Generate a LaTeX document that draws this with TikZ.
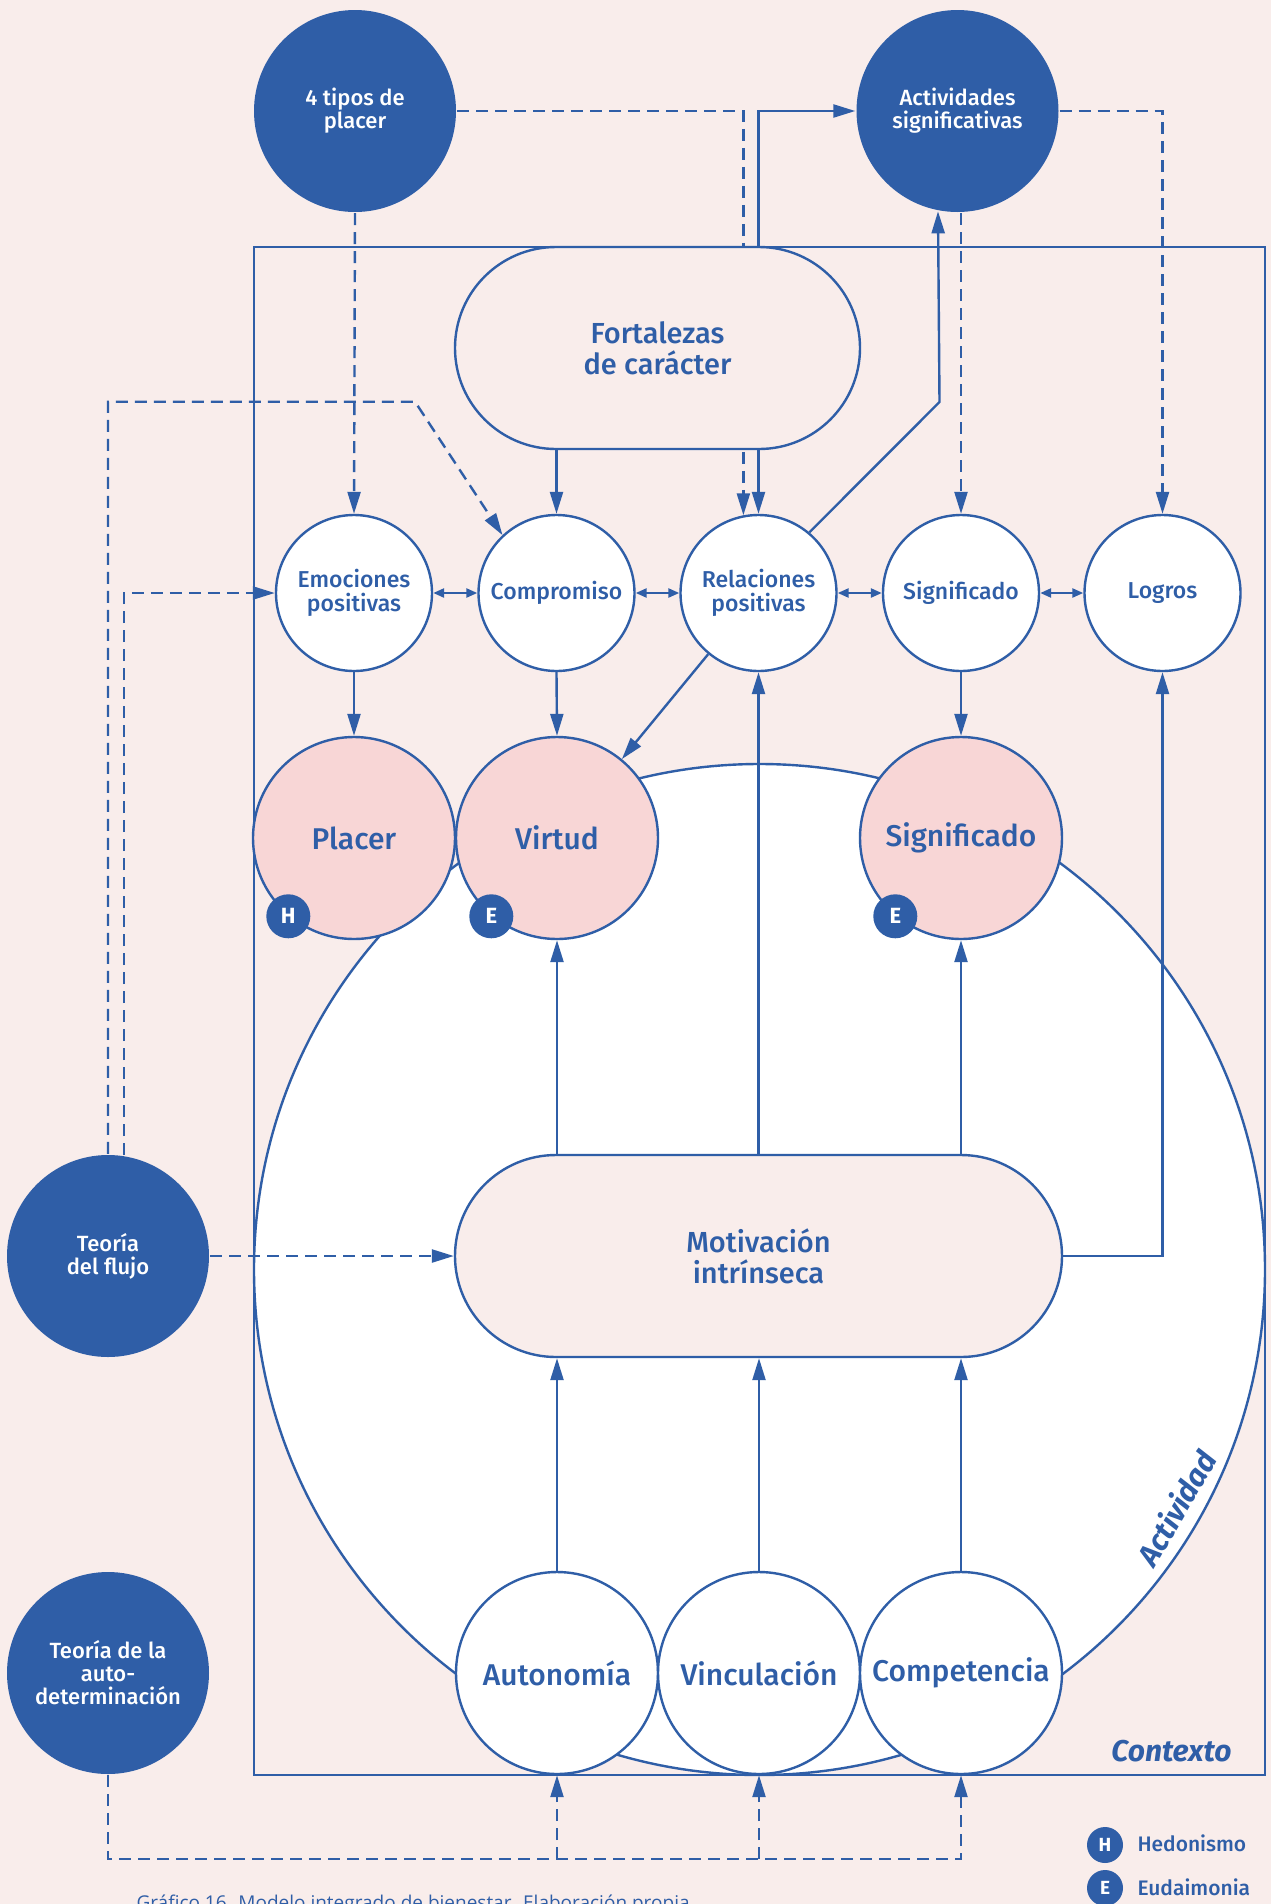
\documentclass[tikz,border=0pt]{standalone}
\usepackage{fontspec}
\setmainfont{Fira Sans}[UprightFont={* Medium}, BoldFont={* Bold}, ItalicFont={* Medium Italic}, BoldItalicFont={* Bold Italic}]
\newfontfamily\capfont{Open Sans}
\usetikzlibrary{arrows.meta}
\definecolor{bgc}{RGB}{249,237,235}
\definecolor{ink}{RGB}{47,94,167}
\definecolor{rose}{RGB}{248,214,214}

\tikzset{
  darkc/.style={circle, fill=ink, text=white, minimum size=202pt, inner sep=0pt,
    align=center, font=\fontsize{22pt}{23pt}\selectfont},
  topc/.style={circle, draw=ink, fill=white, text=ink, minimum size=156pt, inner sep=0pt,
    align=center, font=\fontsize{23pt}{24pt}\selectfont},
  pinkc/.style={circle, draw=ink, fill=rose, text=ink, minimum size=202pt, inner sep=0pt,
    font=\fontsize{30pt}{30pt}\selectfont},
  botc/.style={circle, draw=ink, fill=white, text=ink, minimum size=202pt, inner sep=0pt,
    font=\fontsize{30pt}{30pt}\selectfont},
  stad/.style={rectangle, rounded corners=101pt, draw=ink, fill=bgc, text=ink,
    minimum width=405pt, minimum height=202pt, inner sep=0pt, align=center,
    font=\fontsize{29pt}{31pt}\selectfont},
  badge/.style={circle, fill=ink, text=white, minimum size=44pt, inner sep=0pt,
    font=\fontsize{22pt}{22pt}\bfseries\selectfont},
  conn/.style={-{Triangle[length=22pt,width=13pt]}},
  dbl/.style={{Triangle[length=11pt,width=9pt]}-{Triangle[length=11pt,width=9pt]}},
  dsh/.style={dash pattern=on 12pt off 7pt},
  tag/.style={text=ink, font=\fontsize{30pt}{30pt}\bfseries\itshape\selectfont},
}

\begin{document}
\begin{tikzpicture}[x=1pt,y=-1pt,color=ink,line width=2.4pt]
\useasboundingbox[fill=bgc] (0,0) rectangle (1271,1904);
\clip (0,0) rectangle (1271,1904);

% activity disc and context frame
\draw[fill=white] (759.5,1269.5) circle[radius=505.5pt];
\draw[line width=2.6pt] (254,247) rectangle (1265,1775);

% external theories
\node[darkc] (tipos) at (355,111) {4 tipos de\\placer};
\node[darkc] (act) at (957.5,111) {Actividades\\significativas};
\node[darkc] (flujo) at (108,1256) {Teoría\\del flujo};
\node[darkc] (tad) at (108,1673) {Teoría de la\\auto-\\determinación};

% PERMA row
\node[topc] (emo) at (354,593) {Emociones\\positivas};
\node[topc] (comp) at (556.5,593) {Compromiso};
\node[topc] (rel) at (758.5,593) {Relaciones\\positivas};
\node[topc] (sigt) at (961,593) {Significado};
\node[topc] (log) at (1162.5,593) {Logros};

% this link runs behind the strengths box
\draw[dsh,conn] (tipos.east) -| (rel.101);

% strengths and motivation
\node[stad] (fort) at (657.5,348) {Fortalezas\\de carácter};
\node[stad, minimum width=607pt] (mot) at (758.5,1256) {Motivación\\intrínseca};

% routes to wellbeing
\node[pinkc] (plac) at (354,838) {Placer};
\node[pinkc] (virt) at (557,838) {Virtud};
\node[pinkc] (sigp) at (961,838) {Significado};

% basic needs
\node[botc] (auto) at (557,1673) {Autonomía};
\node[botc] (vinc) at (759,1673) {Vinculación};
\node[botc] (comt) at (961,1673) {Competencia};

% hedonic / eudaimonic badges
\node[badge] (bh) at (plac.230) {H};
\node[badge] (be1) at (virt.230) {E};
\node[badge] (be2) at (sigp.230) {E};

% links from strengths
\draw[conn] (fort.north -| rel.north) |- (act.west);
\draw[conn] (fort.south -| comp.north) -- (comp.north);
\draw[conn] (fort.south -| rel.north) -- (rel.north);

% links from the top theories
\draw[dsh,conn] (tipos.south) -- (emo.north);
\draw[dsh,conn] (sigt.north |- act.south) -- (sigt.north);
\draw[dsh,conn] (act.east) -| (log.north);
\coordinate (kink) at (939.5,402);
\draw[conn] (rel.50) -- (kink) -- (act.259.7);

% PERMA interplay
\draw[dbl] (emo.east) -- (comp.west);
\draw[dbl] (comp.east) -- (rel.west);
\draw[dbl] (rel.east) -- (sigt.west);
\draw[dbl] (sigt.east) -- (log.west);

% PERMA to routes
\draw[conn] (emo.south) -- (plac.north);
\draw[conn] (comp.south) -- (virt.north);
\draw[conn] (sigt.south) -- (sigp.north);
\draw[conn] (rel) -- (virt);

% motivation upwards
\draw[conn] (mot.north -| virt.south) -- (virt.south);
\draw[conn] (mot.north) -- (rel.south);
\draw[conn] (mot.north -| sigp.south) -- (sigp.south);
\draw[conn] (mot.east) -| (log.south);

% needs feed motivation
\draw[conn] (auto.north) -- (auto.north |- mot.south);
\draw[conn] (vinc.north) -- (vinc.north |- mot.south);
\draw[conn] (comt.north) -- (comt.north |- mot.south);

% flow theory
\coordinate (fk) at (415,401.7);
\draw[dsh,conn] (flujo.north) |- (fk) -- (comp.133);
\draw[dsh,conn] (flujo.81) |- (emo.west);
\draw[dsh,conn] (flujo.east) -- (mot.west);

% self-determination theory
\coordinate (bus) at (0,1859);
\draw[dsh,conn] (tad.south) |- (comt.south |- bus) -- (comt.south);
\draw[dsh,conn] (auto.south |- bus) -- (auto.south);
\draw[dsh,conn] (vinc.south |- bus) -- (vinc.south);

% frame labels
\node[tag, rotate=60] (actlab) at (1176,1508) {Actividad};
\node[tag, anchor=base east] (ctx) at (1236,1761) {Contexto};

% legend
\node[badge, minimum size=36pt, font=\fontsize{19pt}{19pt}\bfseries\selectfont] (lh) at (1105,1845) {H};
\node[anchor=base west, text=ink, font=\fontsize{21pt}{21pt}\selectfont] (lht) at (1133,1851) {Hedonismo};
\node[badge, minimum size=36pt, font=\fontsize{19pt}{19pt}\bfseries\selectfont] (le) at (1105,1888) {E};
\node[anchor=base west, text=ink, font=\fontsize{21pt}{21pt}\selectfont] (let) at (1133,1895) {Eudaimonia};

% caption
\node[anchor=base west, text=ink, font=\capfont\fontsize{19pt}{19pt}\selectfont] (cap) at (132,1909)
  {Gráfico 16. Modelo integrado de bienestar. Elaboración propia.};
\end{tikzpicture}
\end{document}
